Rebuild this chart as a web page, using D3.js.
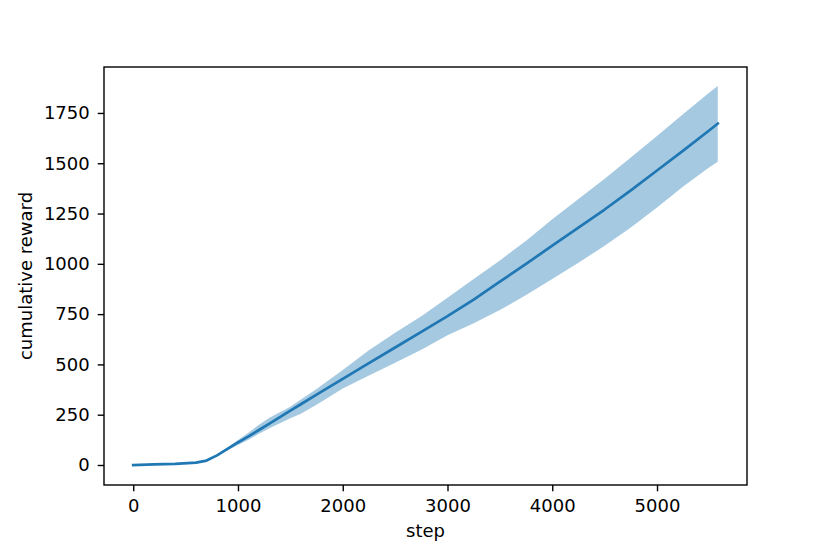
<!DOCTYPE html>
<html>
<head>
<meta charset="utf-8">
<script src="https://cdn.jsdelivr.net/npm/d3@7.9.0/dist/d3.min.js"></script>
<style>
  body { margin: 0; background: #fff; }
  svg { display: block; }
  svg text { font-family: "DejaVu Sans", sans-serif; font-size: 18px; fill: #000; }
</style>
</head>
<body>
<svg id="chart" width="830" height="554"></svg>
<script>
// values
const steps = [0, 200, 400, 600, 700, 800, 900, 1000, 1100, 1200, 1300, 1400, 1500, 1600,
  1750, 2000, 2250, 2500, 2750, 3000, 3250, 3500, 3750, 4000, 4250, 4500, 4750, 5000, 5250, 5500, 5580];
const meanReward = [0, 3, 6, 12, 22, 48, 80, 112, 142, 174, 206, 238, 270, 302,
  350, 428, 506, 584, 662, 740, 822, 911, 1000, 1090, 1180, 1270, 1365, 1464, 1563, 1664, 1697];
const upperReward = [0, 3, 6, 12, 24, 53, 87, 124, 160, 200, 235, 262, 290, 325,
  378, 472, 570, 658, 740, 832, 925, 1017, 1115, 1222, 1322, 1423, 1528, 1636, 1745, 1852, 1884];
const lowerReward = [0, 3, 6, 12, 20, 43, 73, 100, 125, 155, 183, 207, 232, 255,
  300, 380, 445, 508, 573, 645, 705, 770, 845, 925, 1005, 1090, 1180, 1280, 1385, 1480, 1507];
const xTicks = [0, 1000, 2000, 3000, 4000, 5000];
const yTicks = [0, 250, 500, 750, 1000, 1250, 1500, 1750];

const data = steps.map((s, i) => ({ step: s, mean: meanReward[i], lo: lowerReward[i], hi: upperReward[i] }));

const margin = { top: 67, right: 83, bottom: 69, left: 104 };
const svg = d3.select('#chart');
const width = +svg.attr('width') - margin.left - margin.right;
const height = +svg.attr('height') - margin.top - margin.bottom;

// matplotlib style 5% padding around the data
const xPad = 0.05 * (d3.max(steps) - d3.min(steps));
const yMin = d3.min(lowerReward) - 5, yMax = d3.max(upperReward);
const yPad = 0.05 * (yMax - yMin);

const x = d3.scaleLinear().domain([d3.min(steps) - xPad, d3.max(steps) + xPad]).range([0, width]);
const y = d3.scaleLinear().domain([yMin - yPad, yMax + yPad]).range([height, 0]);

const g = svg.append('g').attr('transform', `translate(${margin.left},${margin.top})`);

g.append('path')
  .datum(data)
  .attr('fill', '#1f77b4')
  .attr('fill-opacity', 0.4)
  .attr('d', d3.area().x(d => x(d.step)).y0(d => y(d.lo)).y1(d => y(d.hi)));

g.append('path')
  .datum(data)
  .attr('fill', 'none')
  .attr('stroke', '#1f77b4')
  .attr('stroke-width', 2.7)
  .attr('stroke-linejoin', 'round')
  .attr('stroke-linecap', 'square')
  .attr('d', d3.line().x(d => x(d.step)).y(d => y(d.mean)));

const xAxis = g.append('g')
  .attr('transform', `translate(0,${height})`)
  .call(d3.axisBottom(x).tickValues(xTicks).tickSize(6.3).tickPadding(8).tickFormat(d3.format('d')));
const yAxis = g.append('g')
  .call(d3.axisLeft(y).tickValues(yTicks).tickSize(6.3).tickPadding(8).tickFormat(d3.format('d')));

[xAxis, yAxis].forEach(a => {
  a.attr('font-family', null).attr('font-size', null);
  a.select('.domain').remove();
  a.selectAll('line').attr('stroke', '#000').attr('stroke-width', 1.4);
});

g.append('rect')
  .attr('width', width)
  .attr('height', height)
  .attr('fill', 'none')
  .attr('stroke', '#000')
  .attr('stroke-width', 1.4);

svg.append('text')
  .attr('x', margin.left + width / 2)
  .attr('y', 537)
  .attr('text-anchor', 'middle')
  .text('step');

svg.append('text')
  .attr('transform', `translate(32,${margin.top + height / 2}) rotate(-90)`)
  .attr('text-anchor', 'middle')
  .text('cumulative reward');
</script>
</body>
</html>
